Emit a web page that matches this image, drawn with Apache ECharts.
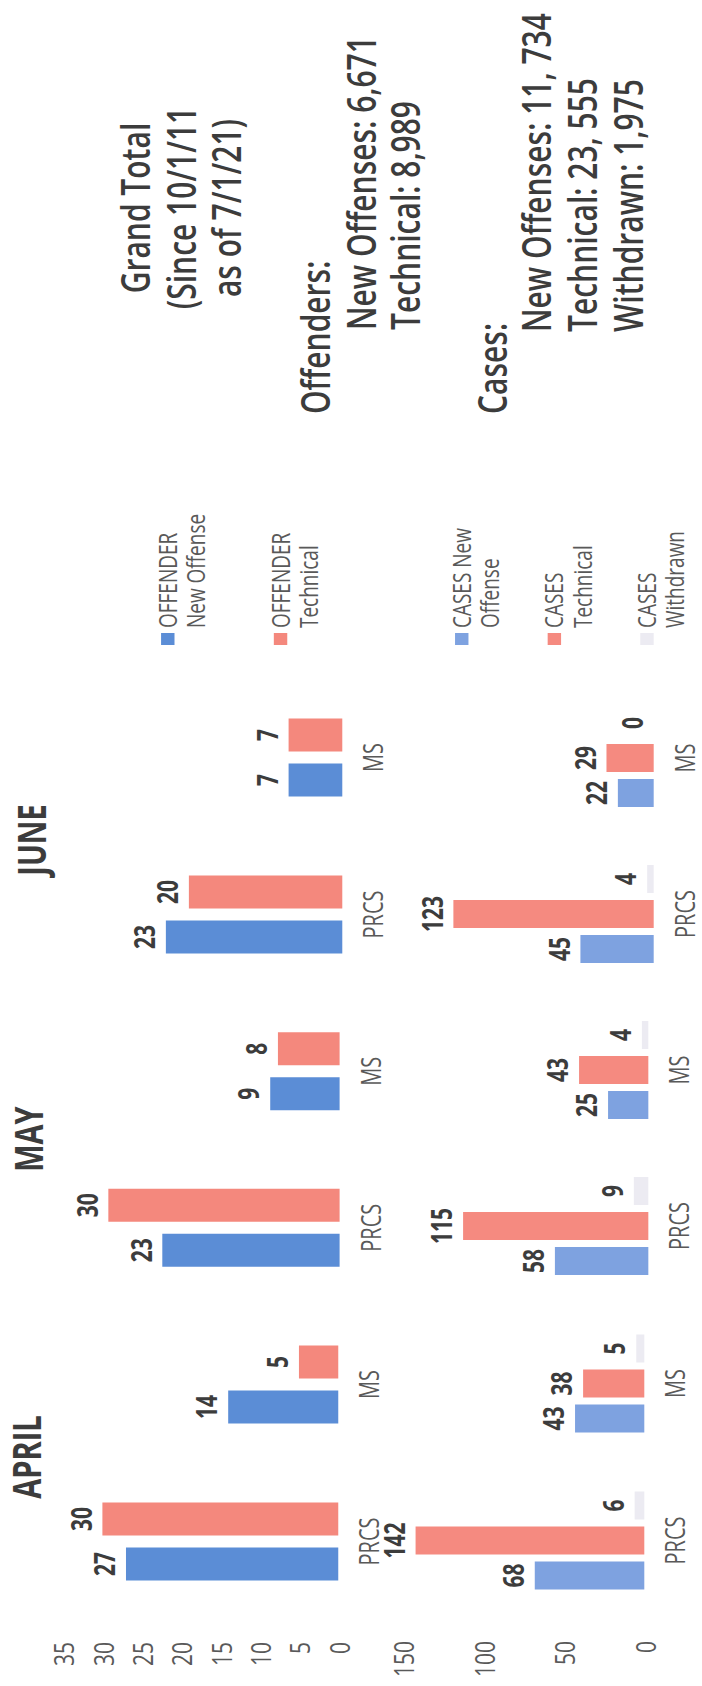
<!DOCTYPE html>
<html><head><meta charset="utf-8">
<script src="https://cdn.jsdelivr.net/npm/echarts@6/dist/echarts.min.js"></script>
<style>
html,body{margin:0;padding:0;background:#fff;overflow:hidden;width:702px;height:1686px;}
#wrap{position:absolute;left:0;top:0;width:1686px;height:523px;transform-origin:0 0;
  transform:translate(0px,1686px) rotate(-90deg) scale(1,1.3423);}
</style></head><body><div id="wrap"></div>
<script>
// ---- data ----
const months = ['APRIL', 'MAY', 'JUNE'];
const categories = ['PRCS', 'MS'];
const offenderNew = [[27, 14], [23, 9], [23, 7]];
const offenderTech = [[30, 5], [30, 8], [20, 7]];
const casesNew = [[68, 43], [58, 25], [45, 22]];
const casesTech = [[142, 38], [115, 43], [123, 29]];
const casesWithdrawn = [[6, 5], [9, 4], [4, 0]];
const offenderAxis = { min: 0, max: 35, interval: 5 };
const casesAxis = { min: 0, max: 150, interval: 50 };
const summaryTitle = ['Grand Total', '(Since 10/1/11', 'as of 7/1/21)'];
const offenderHead = 'Offenders:';
const offenderTotals = ['New Offenses: 6,671', 'Technical: 8,989'];
const casesHead = 'Cases:';
const casesTotals = ['New Offenses: 11, 734', 'Technical: 23, 555', 'Withdrawn: 1,975'];
const seriesNames = ['OFFENDER New Offense', 'OFFENDER Technical', 'CASES New Offense', 'CASES Technical', 'CASES Withdrawn'];
const legendText = {
  'OFFENDER New Offense': 'OFFENDER\nNew Offense',
  'OFFENDER Technical': 'OFFENDER\nTechnical',
  'CASES New Offense': 'CASES New\nOffense',
  'CASES Technical': 'CASES\nTechnical',
  'CASES Withdrawn': 'CASES\nWithdrawn'
};

// ---- layout / style (page is drawn landscape, then turned and stretched by CSS) ----
const FONT = 'Open Sans';
const TXT = '#3c3c3c';
const GREY = '#595959';
const colors = {
  'OFFENDER New Offense': '#5b8dd6',
  'OFFENDER Technical': '#f4887d',
  'CASES New Offense': '#7ea2e0',
  'CASES Technical': '#f58a80',
  'CASES Withdrawn': '#ecebf2'
};
const offGrid = [
  { left: 66, width: 314, top: 47, base: 252 },
  { left: 380, width: 313, top: 52, base: 253 },
  { left: 693, width: 314, top: 55, base: 255 }
];
const casGrid = [
  { left: 67, width: 314, top: 300, base: 480 },
  { left: 382, width: 312, top: 303, base: 483 },
  { left: 694, width: 312, top: 305, base: 487 }
];
const titlePos = [[229, 19], [547, 21], [846, 23]];

const grids = [], xAxes = [], yAxes = [], series = [];
const valueLabel = { show: true, position: 'top', distance: 6, fontFamily: FONT, fontSize: 21, fontWeight: 'bold', color: TXT };

function addGrid(g, axis, showY) {
  const idx = grids.length;
  grids.push({ left: g.left, width: g.width, top: g.top, height: g.base - g.top, containLabel: false });
  xAxes.push({ type: 'category', gridIndex: idx, data: categories,
    axisLine: { show: false }, axisTick: { show: false },
    axisLabel: { color: GREY, fontFamily: FONT, fontSize: 20, margin: 13 } });
  yAxes.push({ type: 'value', gridIndex: idx, min: axis.min, max: axis.max, interval: axis.interval,
    axisLine: { show: false }, axisTick: { show: false }, splitLine: { show: false },
    axisLabel: { show: showY, color: GREY, fontFamily: FONT, fontSize: 21, margin: 22 } });
  return idx;
}
function bar(name, idx, data, w, gap) {
  series.push({ type: 'bar', name, xAxisIndex: idx, yAxisIndex: idx, data,
    barWidth: w, barGap: gap, itemStyle: { color: colors[name] }, label: valueLabel, animation: false });
}
months.forEach((m, i) => {
  const a = addGrid(offGrid[i], offenderAxis, i === 0);
  bar('OFFENDER New Offense', a, offenderNew[i], 33, '36%');
  bar('OFFENDER Technical', a, offenderTech[i], 33, '36%');
  const b = addGrid(casGrid[i], casesAxis, i === 0);
  bar('CASES New Offense', b, casesNew[i], 28, '25%');
  bar('CASES Technical', b, casesTech[i], 28, '25%');
  bar('CASES Withdrawn', b, casesWithdrawn[i], 28, '25%');
});

const graphics = [];
months.forEach((m, i) => {
  graphics.push({ type: 'text', x: titlePos[i][0], y: titlePos[i][1],
    style: { text: m, textAlign: 'center', textVerticalAlign: 'middle', fontFamily: FONT, fontSize: 29, fontWeight: 'bold', fill: TXT } });
});
const SUM_FS = 30;
const sumStyle = (t, align) => ({ text: t, textAlign: align, textVerticalAlign: 'middle', fontFamily: FONT, fontSize: SUM_FS, fontWeight: 600, fill: TXT });
summaryTitle.forEach((t, k) => {
  graphics.push({ type: 'text', x: 1478, y: 100 + k * 34, style: sumStyle(t, 'center') });
});
graphics.push({ type: 'text', x: 1272, y: 234, style: sumStyle(offenderHead, 'left') });
offenderTotals.forEach((t, k) => {
  graphics.push({ type: 'text', x: 1356, y: 268 + k * 33, style: sumStyle(t, 'left') });
});
graphics.push({ type: 'text', x: 1272, y: 366, style: sumStyle(casesHead, 'left') });
casesTotals.forEach((t, k) => {
  graphics.push({ type: 'text', x: 1354, y: 399 + k * 34, style: sumStyle(t, 'left') });
});

const icon = 'path://M0,0L12,0L12,10L0,10Z M0,29.9L0.1,29.9L0.1,30L0,30Z';
const legendCommon = { orient: 'vertical', left: 1036, itemWidth: 12, itemHeight: 30, icon,
  formatter: n => legendText[n], itemStyle: { borderWidth: 0 },
  textStyle: { color: GREY, fontFamily: FONT, fontSize: 19, lineHeight: 21 } };

const chart = echarts.init(document.getElementById('wrap'), null, { renderer: 'svg', width: 1686, height: 523 });
chart.setOption({
  backgroundColor: '#ffffff',
  animation: false,
  grid: grids, xAxis: xAxes, yAxis: yAxes, series,
  legend: [
    Object.assign({}, legendCommon, { top: 109, itemGap: 42, data: seriesNames.slice(0, 2) }),
    Object.assign({}, legendCommon, { top: 328, itemGap: 27, data: seriesNames.slice(2) })
  ],
  graphic: graphics
});
</script></body></html>
